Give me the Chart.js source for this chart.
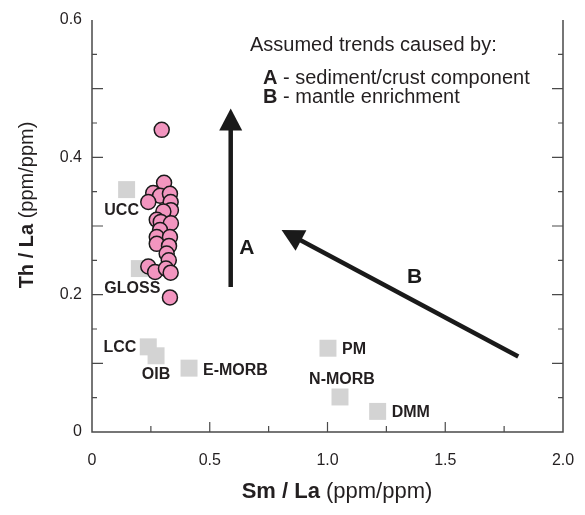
<!DOCTYPE html>
<html>
<head>
<meta charset="utf-8">
<script src="https://cdn.jsdelivr.net/npm/chart.js@4.4.0/dist/chart.umd.min.js"></script>
<style>
  html, body { margin: 0; padding: 0; background: #fff; }
  #wrap { width: 585px; height: 515px; }
</style>
</head>
<body>
<div id="wrap"><canvas id="chart-thla"></canvas></div>
<script>
// Arc lava samples, Th/La against Sm/La
const sampleSmLa = [0.296, 0.306, 0.260, 0.289, 0.331, 0.239, 0.334, 0.335, 0.303, 0.275, 0.292, 0.335,
                    0.289, 0.275, 0.331, 0.275, 0.327, 0.317, 0.326, 0.239, 0.268, 0.314, 0.334, 0.331];
const sampleThLa = [0.440, 0.363, 0.348, 0.344, 0.347, 0.335, 0.335, 0.323, 0.321, 0.309, 0.306, 0.304,
                    0.294, 0.284, 0.284, 0.274, 0.271, 0.260, 0.250, 0.241, 0.233, 0.238, 0.232, 0.196];

// Reference reservoirs
const refNames = ['UCC', 'GLOSS', 'LCC', 'OIB', 'E-MORB', 'PM', 'N-MORB', 'DMM'];
const refSmLa = [0.147, 0.201, 0.239, 0.272, 0.412, 1.002, 1.053, 1.213];
const refThLa = [0.353, 0.238, 0.124, 0.111, 0.093, 0.122, 0.051, 0.030];

// Trend arrows (tail -> head)
const trendNames = ['A', 'B'];
const trendFrom = [[0.589, 0.211], [1.810, 0.110]];
const trendTo = [[0.589, 0.471], [0.805, 0.294]];

const xTickLabels = ['0', '0.5', '1.0', '1.5', '2.0'];
const yTickLabels = ['0', '0.2', '0.4', '0.6'];

const FONT = "'Liberation Sans', Arial, Helvetica, sans-serif";
const INK = '#231f20';
const AXIS = '#4a4a4a';

function tickText(value, step, labels) {
  const i = Math.round(value / step);
  return Math.abs(value - i * step) < 1e-6 ? labels[i] : '';
}

// frame, inward ticks, trend arrows, reference labels, legend and axis titles
const decorPlugin = {
  id: 'decor',
  afterDatasetsDraw(chart) {
    const ctx = chart.ctx;
    const xs = chart.scales.x, ys = chart.scales.y;
    const a = chart.chartArea;
    ctx.save();

    // frame (left, bottom, right)
    ctx.strokeStyle = AXIS;
    ctx.lineWidth = 1.5;
    ctx.beginPath();
    ctx.moveTo(a.left, a.top);
    ctx.lineTo(a.left, a.bottom);
    ctx.lineTo(a.right, a.bottom);
    ctx.lineTo(a.right, a.top);
    ctx.stroke();

    ctx.lineWidth = 1.2;
    ctx.beginPath();
    for (let i = 1; i < 8; i++) {
      const px = xs.getPixelForValue(i * 0.25);
      const len = i % 2 === 0 ? 10 : 6;
      ctx.moveTo(px, a.bottom);
      ctx.lineTo(px, a.bottom - len);
    }
    for (let i = 1; i < 12; i++) {
      const py = ys.getPixelForValue(i * 0.05);
      const len = i % 2 === 0 ? 11 : 5;
      ctx.moveTo(a.left, py);
      ctx.lineTo(a.left + len, py);
      ctx.moveTo(a.right, py);
      ctx.lineTo(a.right - len, py);
    }
    ctx.stroke();

    // trend arrows
    ctx.fillStyle = '#1a1a1a';
    ctx.strokeStyle = '#1a1a1a';
    trendNames.forEach(function(name, k) {
      const x0 = xs.getPixelForValue(trendFrom[k][0]);
      const y0 = ys.getPixelForValue(trendFrom[k][1]);
      const x1 = xs.getPixelForValue(trendTo[k][0]);
      const y1 = ys.getPixelForValue(trendTo[k][1]);
      const ang = Math.atan2(y1 - y0, x1 - x0);
      const c = Math.cos(ang), s = Math.sin(ang);
      const headLen = 22, headHalf = 11.5;
      const bx = x1 - headLen * c, by = y1 - headLen * s;
      ctx.lineWidth = 4.5;
      ctx.beginPath();
      ctx.moveTo(x0, y0);
      ctx.lineTo(bx + c, by + s);
      ctx.stroke();
      ctx.beginPath();
      ctx.moveTo(x1, y1);
      ctx.lineTo(bx - headHalf * s, by + headHalf * c);
      ctx.lineTo(bx + headHalf * s, by - headHalf * c);
      ctx.closePath();
      ctx.fill();

      // letter beside the shaft
      const t = k === 0 ? 0.22 : 0.48;
      const mx = x0 + (x1 - x0) * t, my = y0 + (y1 - y0) * t;
      const nx = k === 0 ? 16 : 10, ny = k === 0 ? 0 : -19;
      ctx.font = 'bold 21px ' + FONT;
      ctx.textAlign = 'center';
      ctx.textBaseline = 'middle';
      ctx.fillText(name, mx + nx, my + ny);
    });

    // reference reservoir labels
    const place = {
      'UCC': ['center', -5, 21],
      'GLOSS': ['center', -7, 20],
      'LCC': ['right', -12, 1],
      'OIB': ['center', 0, 19],
      'E-MORB': ['left', 14, 2],
      'PM': ['left', 14, 1],
      'N-MORB': ['center', 2, -17],
      'DMM': ['left', 14, 1]
    };
    ctx.font = 'bold 16px ' + FONT;
    ctx.fillStyle = INK;
    ctx.textBaseline = 'middle';
    refNames.forEach(function(name, i) {
      const p = place[name];
      ctx.textAlign = p[0];
      ctx.fillText(name, xs.getPixelForValue(refSmLa[i]) + p[1], ys.getPixelForValue(refThLa[i]) + p[2]);
    });

    // legend block
    ctx.textAlign = 'left';
    ctx.font = '20px ' + FONT;
    ctx.fillText('Assumed trends caused by:', 250, 45);
    [['A', ' - sediment/crust component'], ['B', ' - mantle enrichment']].forEach(function(row, i) {
      const y = 78 + i * 19;
      ctx.font = 'bold 20px ' + FONT;
      ctx.fillText(row[0], 263, y);
      const w = ctx.measureText(row[0]).width;
      ctx.font = '20px ' + FONT;
      ctx.fillText(row[1], 263 + w, y);
    });

    // axis titles: bold ratio + plain units
    function mixed(bold, plain, size, cx, cy) {
      ctx.font = 'bold ' + size + 'px ' + FONT;
      const wb = ctx.measureText(bold).width;
      ctx.font = size + 'px ' + FONT;
      const wp = ctx.measureText(plain).width;
      const start = cx - (wb + wp) / 2;
      ctx.textAlign = 'left';
      ctx.font = 'bold ' + size + 'px ' + FONT;
      ctx.fillText(bold, start, cy);
      ctx.font = size + 'px ' + FONT;
      ctx.fillText(plain, start + wb, cy);
    }
    mixed('Sm / La', ' (ppm/ppm)', 22, 337, 492);
    ctx.translate(27, 205);
    ctx.rotate(-Math.PI / 2);
    mixed('Th / La', ' (ppm/ppm)', 20, 0, 0);

    ctx.restore();
  }
};

new Chart(document.getElementById('chart-thla'), {
  type: 'scatter',
  data: {
    datasets: [
      {
        label: 'Samples',
        data: sampleSmLa.map(function(x, i) { return { x: x, y: sampleThLa[i] }; }),
        pointStyle: 'circle',
        pointRadius: 7.5,
        backgroundColor: '#f295bf',
        borderColor: '#1a1a1a',
        borderWidth: 1.5
      },
      {
        label: 'Reservoirs',
        data: refSmLa.map(function(x, i) { return { x: x, y: refThLa[i] }; }),
        pointStyle: 'rect',
        pointRadius: 12,
        backgroundColor: '#d3d3d3',
        borderWidth: 0
      }
    ]
  },
  options: {
    responsive: true,
    maintainAspectRatio: false,
    animation: false,
    layout: { padding: { left: 0, right: 22, top: 20, bottom: 0 } },
    plugins: {
      legend: { display: false },
      tooltip: { enabled: false }
    },
    scales: {
      x: {
        type: 'linear',
        min: 0,
        max: 2,
        border: { display: false },
        grid: { display: false, drawTicks: false },
        ticks: {
          stepSize: 0.25,
          autoSkip: false,
          maxRotation: 0,
          padding: 19,
          color: INK,
          font: { family: FONT, size: 16 },
          callback: function(value) { return tickText(value, 0.5, xTickLabels); }
        },
        afterFit: function(scale) {
          scale.height = 83;
          scale.paddingLeft = 0;
          scale.paddingRight = 0;
        }
      },
      y: {
        type: 'linear',
        min: 0,
        max: 0.6,
        border: { display: false },
        grid: { display: false, drawTicks: false },
        ticks: {
          stepSize: 0.05,
          autoSkip: false,
          padding: 10,
          color: INK,
          font: { family: FONT, size: 16 },
          callback: function(value) { return tickText(value, 0.2, yTickLabels); }
        },
        afterFit: function(scale) {
          scale.width = 92;
          scale.paddingTop = 0;
          scale.paddingBottom = 0;
        }
      }
    }
  },
  plugins: [decorPlugin]
});
</script>
</body>
</html>
